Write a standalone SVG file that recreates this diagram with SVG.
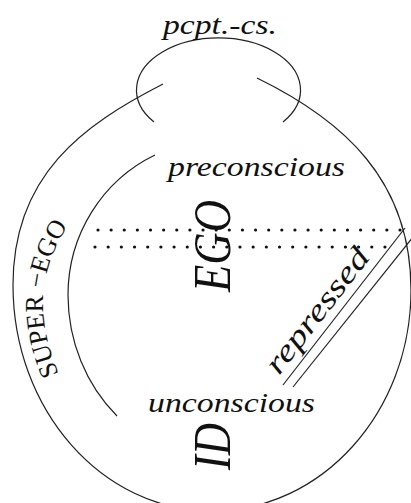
<svg xmlns="http://www.w3.org/2000/svg" width="411" height="503" viewBox="0 0 411 503">
<style>
.ln{fill:none;stroke:#222;stroke-width:1.2}
.dot{fill:none;stroke:#111;stroke-width:3.2;stroke-linecap:round}
text{fill:#111}
</style>
<defs>
<path id="seArc" d="M59,374 C36,320 36,270 72,220"/>
</defs>
<g id="connectors">
<path id="outer" class="ln" d="M163,84 C83,125 13,175 13,285 C13,410 102,511 212,511 C322,511 411,412 411,290 C411,180 343,120 257,78"/>
<path id="inner" class="ln" d="M155,155 A152 155 0 0 0 68,295 A152 165 0 0 0 117,416"/>
<line class="dot" x1="98" y1="230" x2="400" y2="230" stroke-dasharray="0 13.13"/>
<line class="dot" x1="95" y1="247" x2="385" y2="247" stroke-dasharray="0 13.18"/>
<line class="ln" x1="283" y1="385" x2="405" y2="228"/>
<line class="ln" x1="293" y1="387" x2="413" y2="237"/>
</g>
<g id="pcpt">
<path class="ln" d="M154,122 A82 52 0 1 1 283,122"/>
<text font-family="Liberation Serif, serif" font-style="italic" x="163" y="34" font-size="27" textLength="114" lengthAdjust="spacingAndGlyphs">pcpt.-cs.</text>
</g>
<g id="preconscious">
<text font-family="Liberation Serif, serif" font-style="italic" x="168" y="176" font-size="28" textLength="177" lengthAdjust="spacingAndGlyphs">preconscious</text>
</g>
<g id="ego">
<text font-family="Liberation Serif, serif" font-style="italic" transform="translate(230,292) rotate(-90)" font-size="52" textLength="92" lengthAdjust="spacingAndGlyphs">EGO</text>
</g>
<g id="superego">
<text font-family="Liberation Serif, serif" font-size="26"><textPath href="#seArc">SUPER −EGO</textPath></text>
</g>
<g id="repressed">
<text font-family="Liberation Serif, serif" font-style="italic" transform="translate(279,376) rotate(-52.15)" font-size="31" textLength="150" lengthAdjust="spacingAndGlyphs">repressed</text>
</g>
<g id="unconscious">
<text font-family="Liberation Serif, serif" font-style="italic" x="148" y="412" font-size="28" textLength="167" lengthAdjust="spacingAndGlyphs">unconscious</text>
</g>
<g id="id">
<text font-family="Liberation Serif, serif" font-style="italic" transform="translate(230,470) rotate(-90)" font-size="52" textLength="47" lengthAdjust="spacingAndGlyphs">ID</text>
</g>
</svg>
